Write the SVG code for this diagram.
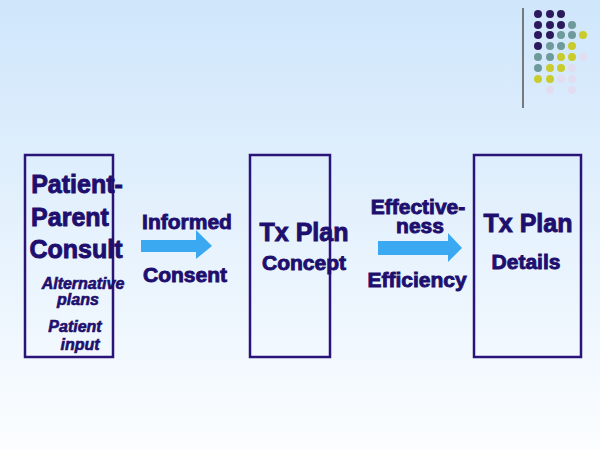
<svg xmlns="http://www.w3.org/2000/svg" width="600" height="450" viewBox="0 0 600 450">
<defs>
<linearGradient id="bg" x1="0" y1="0" x2="0" y2="1"><stop offset="0" stop-color="#cfe6fb"/><stop offset="1" stop-color="#fbfdff"/></linearGradient>
<style>
.box{fill:none;stroke:#2a1478;stroke-width:2.5}
text{font-family:Arial,"Liberation Sans",sans-serif;font-weight:bold;fill:#1e0f6e;stroke:#1e0f6e;stroke-width:0.9;text-anchor:middle}
.b{font-size:25px}.m{font-size:21px}.i{font-size:16px;font-style:italic;stroke-width:0.6}
.arr{fill:#3aa9f2}
.p{fill:#2d1a5e}.t{fill:#6f9a9c}.y{fill:#c9cc2c}.l{fill:#e2ddf0}
</style>
</defs>
<rect width="600" height="450" fill="url(#bg)"/>
<g id="deco">
<line x1="523" y1="8" x2="523" y2="108" stroke="#555" stroke-width="1.5"/>
<g>
<circle class="p" cx="538" cy="14" r="4"/><circle class="p" cx="550" cy="14" r="4"/><circle class="p" cx="561" cy="14" r="4"/>
<circle class="p" cx="538" cy="25" r="4"/><circle class="p" cx="550" cy="25" r="4"/><circle class="p" cx="561" cy="25" r="4"/><circle class="t" cx="572" cy="25" r="4"/>
<circle class="p" cx="538" cy="35" r="4"/><circle class="p" cx="550" cy="35" r="4"/><circle class="t" cx="561" cy="35" r="4"/><circle class="t" cx="572" cy="35" r="4"/><circle class="y" cx="583" cy="35" r="4"/>
<circle class="p" cx="538" cy="46" r="4"/><circle class="t" cx="550" cy="46" r="4"/><circle class="t" cx="561" cy="46" r="4"/><circle class="y" cx="572" cy="46" r="4"/>
<circle class="t" cx="538" cy="57" r="4"/><circle class="t" cx="550" cy="57" r="4"/><circle class="y" cx="561" cy="57" r="4"/><circle class="y" cx="572" cy="57" r="4"/><circle class="l" cx="583" cy="57" r="4"/>
<circle class="t" cx="538" cy="68" r="4"/><circle class="y" cx="550" cy="68" r="4"/><circle class="y" cx="561" cy="68" r="4"/><circle class="l" cx="572" cy="68" r="4"/>
<circle class="y" cx="538" cy="79" r="4"/><circle class="y" cx="550" cy="79" r="4"/><circle class="l" cx="561" cy="79" r="4"/><circle class="l" cx="572" cy="79" r="4"/>
<circle class="l" cx="550" cy="90" r="4"/><circle class="l" cx="572" cy="90" r="4"/>
</g>
</g>
<g id="consult">
<rect class="box" x="25" y="155" width="88" height="202"/>
<text class="b" x="77" y="193">Patient-</text>
<text class="b" x="70" y="226">Parent</text>
<text class="b" x="76" y="258">Consult</text>
<text class="i" x="83" y="289">Alternative</text>
<text class="i" x="78" y="305">plans</text>
<text class="i" x="75" y="332">Patient</text>
<text class="i" x="80" y="350">input</text>
</g>
<g id="concept">
<rect class="box" x="250" y="155" width="80" height="202"/>
<text class="b" x="304" y="241">Tx Plan</text>
<text class="m" x="304" y="270">Concept</text>
</g>
<g id="details">
<rect class="box" x="474" y="155" width="107" height="202"/>
<text class="b" x="528" y="232">Tx Plan</text>
<text class="m" x="526" y="269">Details</text>
</g>
<g id="connectors">
<polygon class="arr" points="141,240 196,240 196,230 212,246 196,259 196,252 141,252"/>
<text class="m" x="187" y="229">Informed</text>
<text class="m" x="185" y="282">Consent</text>
<polygon class="arr" points="378,241 448,241 448,233 462,248 448,262 448,255 378,255"/>
<text class="m" x="418" y="214">Effective-</text>
<text class="m" x="420" y="233">ness</text>
<text class="m" x="417" y="287">Efficiency</text>
</g>
</svg>
